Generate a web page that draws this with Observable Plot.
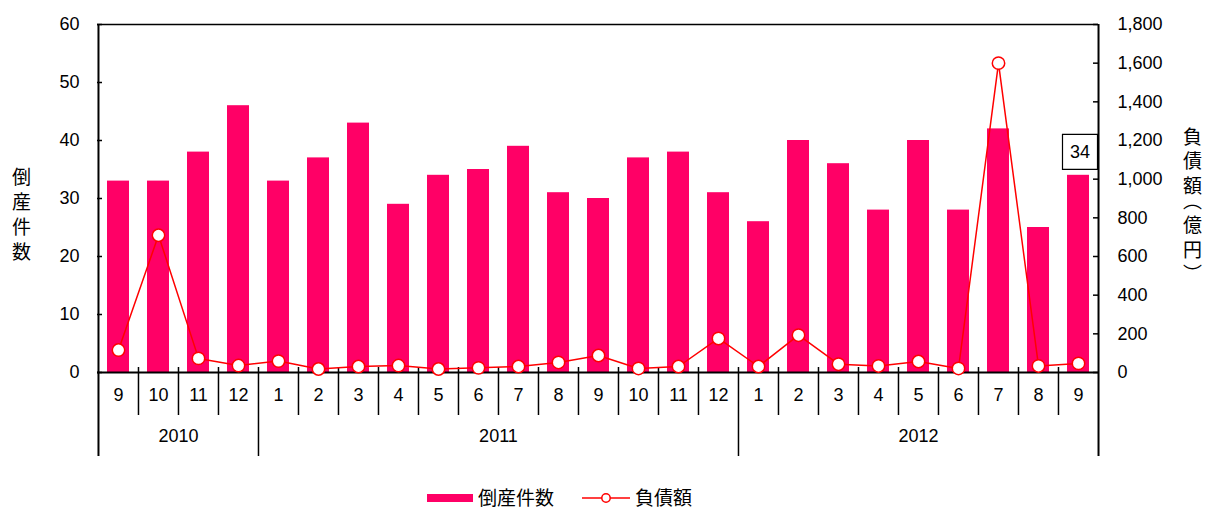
<!DOCTYPE html>
<html><head><meta charset="utf-8">
<script src="https://cdn.jsdelivr.net/npm/d3@7"></script>
<script src="https://cdn.jsdelivr.net/npm/@observablehq/plot@0.6"></script>
<style>
body{margin:0;background:#fff;font-family:"Liberation Sans","Noto Sans CJK JP",sans-serif;color:#000}
#wrap{position:relative;width:1205px;height:511px;overflow:hidden;background:#fff}
#chart{position:absolute;left:0;top:0}
.vt{position:absolute;writing-mode:vertical-rl;text-orientation:upright;font-size:19px;line-height:1;font-family:"Noto Sans CJK JP",sans-serif;color:#000;white-space:nowrap}
.lg{position:absolute;font-size:19px;line-height:14px;height:14px;font-family:"Noto Sans CJK JP",sans-serif;white-space:nowrap}
</style></head>
<body><div id="wrap"><div id="chart"></div>
<div class="vt" id="ltitle" style="left:12px;top:167px;letter-spacing:6px">倒産件数</div>
<div class="vt" id="rtitle" style="left:1183px;top:127px;letter-spacing:5.5px;font-feature-settings:'vpal'">負債額（億円）</div>
<div style="position:absolute;left:427px;top:494px;width:46px;height:8px;background:#ff0066"></div>
<div class="lg" style="left:478px;top:489.5px">倒産件数</div>
<svg style="position:absolute;left:582px;top:492px" width="48" height="12"><line x1="0" y1="6" x2="48" y2="6" stroke="#ff0000" stroke-width="1.5"/><circle cx="24" cy="6" r="4.2" fill="#fff" stroke="#ff0000" stroke-width="1.5"/></svg>
<div class="lg" style="left:635px;top:489.5px">負債額</div>
</div>
<script>
const periods = ["2010-09","2010-10","2010-11","2010-12","2011-01","2011-02","2011-03","2011-04","2011-05","2011-06","2011-07","2011-08","2011-09","2011-10","2011-11","2011-12","2012-01","2012-02","2012-03","2012-04","2012-05","2012-06","2012-07","2012-08","2012-09"];
const bankruptcies = [33,33,38,46,33,37,43,29,34,35,39,31,30,37,38,31,26,40,36,28,40,28,42,25,34];
const debt = [116,710,73,36,59,18,31,36,18,24,31,52,88,21,31,176,31,193,43,34,57,21,1600,34,47];
const leftTicks = [0,10,20,30,40,50,60];
const rightTicks = [0,200,400,600,800,1000,1200,1400,1600,1800];

const RATIO = rightTicks[rightTicks.length-1] / leftTicks[leftTicks.length-1];
const data = periods.map((p,i)=>({key:p, year:p.slice(0,4), month:String(+p.slice(5)), count:bankruptcies[i], debt:debt[i]}));
const W=1205, H=470, mL=97, mR=107, mT=24, mB=98;
const innerW = W-mL-mR;
const step = innerW/periods.length;
const yearStarts = data.filter((d,i)=> i>0 && d.year!==data[i-1].year);
const monthBounds = data.filter((d,i)=> i>0 && d.year===data[i-1].year);
const groups = d3.groups(data, d=>d.year);
const yearMarks = groups.map(([yr, rows])=>{
  const n = rows.length;
  const even = n%2===0;
  const r = even ? rows[n/2] : rows[(n-1)/2];
  return Plot.text([r], {x:"key", text:()=>yr, frameAnchor:"bottom", dy:69, dx: even ? -step/2 : 0, fontSize:18});
});
const last = data[data.length-1];

const chart = Plot.plot({
  width:W, height:H, marginLeft:mL, marginRight:mR, marginTop:mT, marginBottom:mB,
  style:{fontFamily:'"Liberation Sans","Noto Sans CJK JP",sans-serif', fontSize:"18px", color:"#000", background:"#fff"},
  x:{type:"band", domain:periods, paddingInner:0.45, paddingOuter:0.225, axis:null},
  y:{domain:[0, leftTicks[leftTicks.length-1]]},
  marks:[
    Plot.barY(data, {x:"key", y:"count", fill:"#ff0066"}),
    Plot.ruleY([leftTicks[leftTicks.length-1]], {stroke:"#000", strokeWidth:1.5}),
    Plot.ruleY(leftTicks, {insetRight: innerW-5, stroke:"#000", strokeWidth:1.5}),
    Plot.ruleY(rightTicks.map(v=>v/RATIO), {insetLeft: innerW-5, stroke:"#000", strokeWidth:1.5}),
    Plot.ruleX(monthBounds, {x:"key", dx:-step/2, insetTop:343, insetBottom:-43, stroke:"#000", strokeWidth:1.5}),
    Plot.ruleX(yearStarts, {x:"key", dx:-step/2, insetTop:343, insetBottom:-84, stroke:"#000", strokeWidth:1.5}),
    Plot.ruleX([data[0]], {x:"key", dx:-step/2, insetBottom:-84, stroke:"#000", strokeWidth:2}),
    Plot.ruleX([last], {x:"key", dx:step/2, insetBottom:-84, stroke:"#000", strokeWidth:2}),
    Plot.ruleY([0], {stroke:"#000", strokeWidth:2.2}),
    Plot.axisY(leftTicks, {anchor:"left", tickSize:0, tickPadding:18, fontSize:18, label:null}),
    Plot.axisY(rightTicks.map(v=>v/RATIO), {anchor:"right", tickSize:0, tickPadding:19, fontSize:18, label:null, tickFormat:d=>d3.format(",")(Math.round(d*RATIO))}),
    Plot.text(data, {x:"key", text:"month", frameAnchor:"bottom", dy:28, fontSize:18}),
    ...yearMarks,
    Plot.line(data, {x:"key", y:d=>d.debt/RATIO, stroke:"#ff0000", strokeWidth:1.5}),
    Plot.dot(data, {x:"key", y:d=>d.debt/RATIO, r:6.2, fill:"#fff", stroke:"#ff0000", strokeWidth:1.5}),
    Plot.dot([last], {x:"key", y:"count", symbol:"square", r:19.75, fill:"#fff", stroke:"#000", strokeWidth:1.2, dx:1.5, dy:-23.5}),
    Plot.text([last], {x:"key", y:"count", text:d=>String(d.count), dx:1.5, dy:-23.5, fontSize:18})
  ]
});
document.getElementById("chart").appendChild(chart);
</script>
</body></html>
